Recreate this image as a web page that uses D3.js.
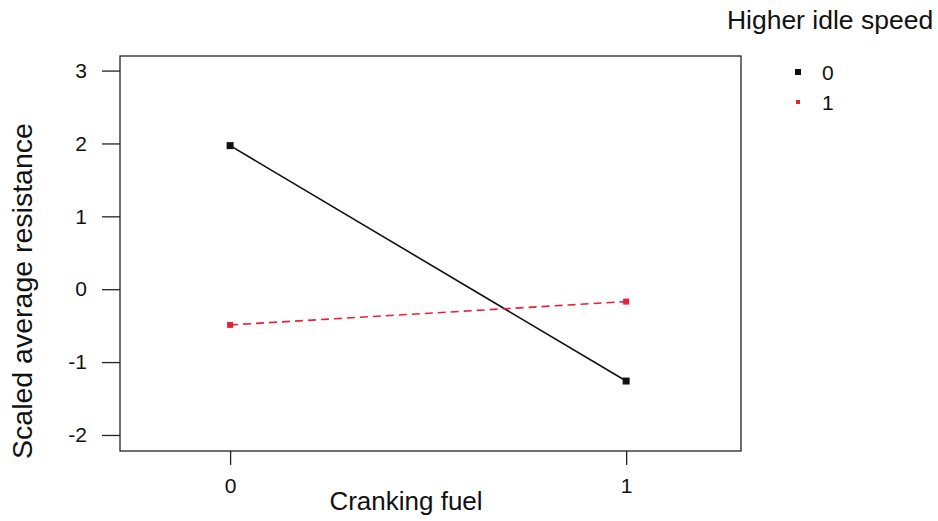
<!DOCTYPE html>
<html><head><meta charset="utf-8">
<script src="https://cdn.jsdelivr.net/npm/d3@7"></script>
<style>body{margin:0;background:#fff}svg{display:block}text{font-family:"Liberation Sans",Arial,sans-serif;fill:#111}</style>
</head><body><svg id="c" width="938" height="521"></svg>
<script>
const xCategories = [0, 1];
const seriesNames = ["0", "1"];
const series0 = [1.97, -1.26];
const series1 = [-0.49, -0.17];
const yTicks = [3, 2, 1, 0, -1, -2];
const xTicks = [0, 1];
const colors = ["#111111", "#e8213b"];

const svg = d3.select("#c");
const L = 120, R = 741, T = 56, B = 451;
const x = d3.scaleLinear().domain([-0.278, 1.29]).range([L, R]);
const y = d3.scaleLinear().domain([-2.22, 3.2]).range([B, T]);

svg.append("rect").attr("x", L).attr("y", T).attr("width", R - L).attr("height", B - T)
  .attr("fill", "none").attr("stroke", "#222").attr("stroke-width", 1.3);

const ya = svg.append("g").attr("transform", `translate(${L},0)`)
  .call(d3.axisLeft(y).tickValues(yTicks).tickSize(18).tickPadding(15).tickFormat(d => String(d)));
ya.select(".domain").remove();
ya.selectAll("line").attr("stroke", "#222").attr("stroke-width", 1.3);
ya.selectAll("text").style("font-size", "21px").style("font-family", "Liberation Sans, Arial, sans-serif").attr("fill", "#111");

const xa = svg.append("g").attr("transform", `translate(0,${B})`)
  .call(d3.axisBottom(x).tickValues(xTicks).tickSize(14).tickPadding(13).tickFormat(d => String(d)));
xa.select(".domain").remove();
xa.selectAll("line").attr("stroke", "#222").attr("stroke-width", 1.3);
xa.selectAll("text").style("font-size", "21px").style("font-family", "Liberation Sans, Arial, sans-serif").attr("fill", "#111");

svg.append("text").attr("x", 406).attr("y", 510).attr("text-anchor", "middle")
  .style("font-size", "26px").text("Cranking fuel");
svg.append("text").attr("transform", `translate(32,291) rotate(-90)`).attr("text-anchor", "middle")
  .style("font-size", "28.5px").text("Scaled average resistance");

const data = [series0, series1];
const line = d3.line().x((d, i) => x(xCategories[i])).y(d => y(d));
data.forEach((s, k) => {
  svg.append("path").datum(s).attr("d", line).attr("fill", "none")
    .attr("stroke", colors[k]).attr("stroke-width", 1.6)
    .attr("stroke-dasharray", k === 1 ? "8,5" : null);
  const sz = k === 0 ? 7 : 6;
  svg.selectAll(null).data(s).enter().append("rect")
    .attr("x", (d, i) => x(xCategories[i]) - sz / 2).attr("y", d => y(d) - sz / 2)
    .attr("width", sz).attr("height", sz).attr("fill", colors[k]);
});

// legend
svg.append("text").attr("x", 830).attr("y", 29).attr("text-anchor", "middle").style("font-size", "26.5px").text("Higher idle speed");
seriesNames.forEach((n, k) => {
  const yy = 72 + k * 30;
  const sz = k === 0 ? 6 : 4;
  svg.append("rect").attr("x", 798 - sz / 2).attr("y", yy - sz / 2).attr("width", sz).attr("height", sz).attr("fill", colors[k]);
  svg.append("text").attr("x", 822).attr("y", yy + 8).style("font-size", "21px").text(n);
});
</script></body></html>
